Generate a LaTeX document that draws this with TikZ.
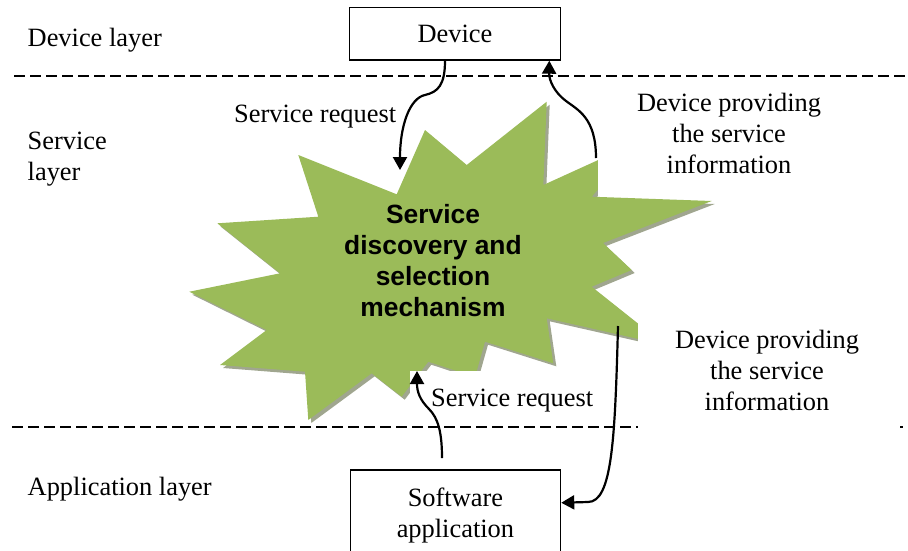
\documentclass[tikz,border=0pt]{standalone}
\usepackage{fontspec}
\setmainfont{Liberation Serif}
\newfontfamily\headfont{Liberation Sans}
\usetikzlibrary{arrows.meta}
\definecolor{stargreen}{RGB}{155,187,89}
\definecolor{starshade}{RGB}{160,166,143}
\begin{document}
\begin{tikzpicture}[x=1pt,y=-1pt,
  txt/.style={font=\fontsize{26.4}{31}\selectfont, inner sep=0pt},
  layerline/.style={line width=2.8pt, dash pattern=on 10.5pt off 5.5pt},
  boxnode/.style={draw, line width=1.5pt, inner sep=0pt,
    font=\fontsize{26.4}{31}\selectfont, align=center},
  flow/.style={line width=2.2pt, -{Triangle[length=13pt,width=14pt]}},
  burst/.style={insert path={(425,130) -- (466.7,165) -- (546.7,101.7)
    -- (543.3,185) -- (640,141) -- (591.7,196.7) -- (711.7,201)
    -- (603,243) -- (631.7,270) -- (591.7,286.7) -- (665,345)
    -- (546.7,318.3) -- (553.3,363.3) -- (485,341.7) -- (475,377)
    -- (428.3,361.7) -- (401.7,396.7) -- (371.7,373.3) -- (308.3,420)
    -- (305,371.7) -- (220,365) -- (266.7,330) -- (189.3,291.7)
    -- (280,273.3) -- (217.3,223.3) -- (318.3,216.7) -- (298.3,155)
    -- (396.7,194.3) -- cycle}},
]
\useasboundingbox (0,0) rectangle (908,550);

% layer separators
\draw[layerline] (14,76) -- (908,76);
\draw[layerline] (12,427) -- (908,427);

% the burst with its drop shadow
\fill[starshade, shift={(3,3)}] [burst];
\fill[stargreen] [burst];

% white backgrounds of the side labels
\fill[white] (598,80) rectangle (862,196);
\fill[white] (638,318) rectangle (900,432);
\fill[white] (410,371) rectangle (605,421);

% boxes
\node[boxnode, minimum width=211.4pt, minimum height=52.7pt] (device) at (455,33.6) {Device};
\node[boxnode, minimum width=210.2pt, minimum height=91pt, anchor=north] (app) at (455.4,469) {Software\\application};

% layer names (base anchor = baseline of the last line)
\node[txt, anchor=base west] (devlayer) at (27.5,46) {Device layer};
\node[txt, anchor=base west, align=left] (servlayer) at (27.5,180.5) {Service\\layer};
\node[txt, anchor=base west] (applayer) at (27.5,495) {Application layer};

% connector labels
\node[txt, anchor=base west] (reqtop) at (234,122) {Service request};
\node[txt, anchor=base west] (reqbot) at (431,406) {Service request};
\node[txt, anchor=base, align=center] (infotop) at (729,173) {Device providing\\the service\\information};
\node[txt, anchor=base, align=center] (infobot) at (767,410) {Device providing\\the service\\information};

% title inside the burst
\node[txt, font=\headfont\bfseries\fontsize{26.4}{31}\selectfont, align=center, anchor=base] (mech) at (433,316) {Service\\discovery and\\selection\\mechanism};

% end points on the burst
\coordinate (reqIn) at (400,170);
\coordinate (infoOut) at (596,158);
\coordinate (reqUp) at (417,371);
\coordinate (infoDown) at (618,326);

% connectors
\draw[flow] ([xshift=-10pt]device.south) .. controls (445,85) and (438,92) .. (425,95)
  .. controls (410,98) and (400,125) .. (reqIn);
\draw[flow] (infoOut) .. controls (596,118) and (578,110) .. (566,101)
  .. controls (554,92) and (549,80) .. ([xshift=94.3pt]device.south);
\draw[flow] ([xshift=-13.4pt,yshift=11pt]app.north) .. controls (442,432) and (438,418) .. (429,409)
  .. controls (420,400) and (417,392) .. (reqUp);
\draw[flow] (infoDown) .. controls (615,440) and (612,502) .. (588,502)
  -- ([yshift=12.5pt]app.east);
\end{tikzpicture}
\end{document}
